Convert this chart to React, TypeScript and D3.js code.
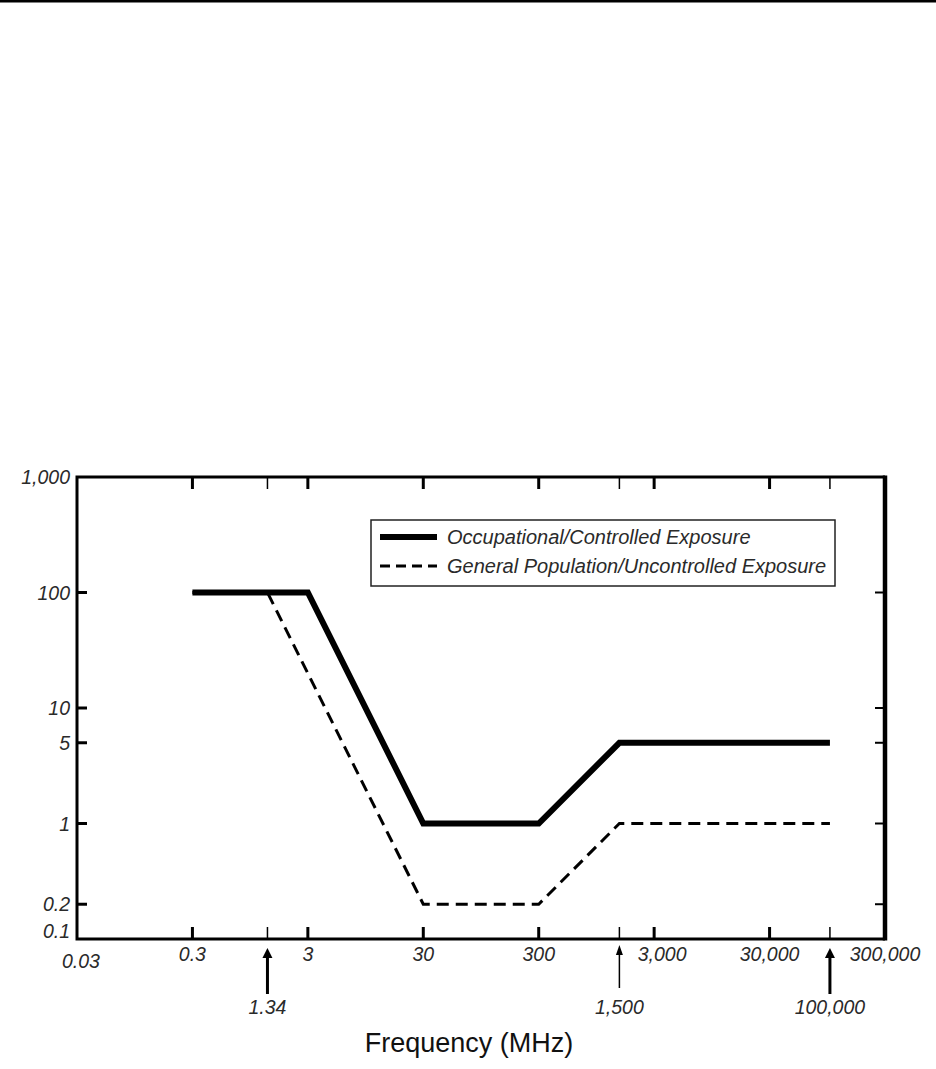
import React, { useEffect, useRef } from 'react';
import * as d3 from 'd3';

// frequency axis (MHz), log scale
const freqTicks = [0.03, 0.3, 3, 30, 300, 3000, 30000, 300000];
const freqTickLabels = ['0.03', '0.3', '3', '30', '300', '3,000', '30,000', '300,000'];

// marked transition frequencies with arrows
const markerFreqs = [1.34, 1500, 100000];
const markerLabels = ['1.34', '1,500', '100,000'];
const markerBold = [true, false, true];

// power density axis (mW/cm²), log scale
const densityTicks = [1000, 100, 10, 5, 1, 0.2, 0.1];
const densityTickLabels = ['1,000', '100', '10', '5', '1', '0.2', '0.1'];

// Occupational / Controlled exposure limit
const occFreq = [0.3, 3, 30, 300, 1500, 100000];
const occValues = [100, 100, 1, 1, 5, 5];

// General population / Uncontrolled exposure limit
const genFreq = [0.3, 1.34, 30, 300, 1500, 100000];
const genValues = [100, 100, 0.2, 0.2, 1, 1];

const seriesNames = ['Occupational/Controlled Exposure', 'General Population/Uncontrolled Exposure'];

const App: React.FC = () => {
    const svgRef = useRef<SVGSVGElement>(null);

    useEffect(() => {
        document.body.style.margin = '0';
        d3.select(svgRef.current).selectAll('*').remove();

        const width = 936;
        const height = 1069;
        const left = 77, right = 885, top = 477, bottom = 939;
        const font = 'Liberation Sans, Arial, sans-serif';
        const textColor = '#2a2a2a';

        const svg = d3.select(svgRef.current)
            .attr('width', width)
            .attr('height', height)
            .style('display', 'block')
            .style('background', '#fff');

        // rule at the very top of the page
        svg.append('rect')
            .attr('x', 0).attr('y', 0)
            .attr('width', width).attr('height', 2.5)
            .attr('fill', '#000');

        const x = d3.scaleLog().domain([0.03, 300000]).range([left, right]);
        const y = d3.scaleLog().domain([0.1, 1000]).range([bottom, top]);

        // frame
        svg.append('path')
            .attr('d', `M${right},${top}H${left}V${bottom}H${right}`)
            .attr('fill', 'none')
            .attr('stroke', '#000')
            .attr('stroke-width', 3);
        svg.append('line')
            .attr('x1', right).attr('x2', right)
            .attr('y1', top - 1.5).attr('y2', bottom + 1.5)
            .attr('stroke', '#000')
            .attr('stroke-width', 4.5);

        // y ticks (inner, both sides)
        const innerY = densityTicks.filter(d => d < 1000 && d > 0.1);
        svg.append('g').selectAll('line')
            .data(innerY)
            .join('line')
            .attr('x1', left).attr('x2', left + 10)
            .attr('y1', d => y(d)).attr('y2', d => y(d))
            .attr('stroke', '#000').attr('stroke-width', 3);
        svg.append('g').selectAll('line')
            .data(innerY)
            .join('line')
            .attr('x1', right - 10).attr('x2', right)
            .attr('y1', d => y(d)).attr('y2', d => y(d))
            .attr('stroke', '#000').attr('stroke-width', 2);

        // y labels (the lowest one sits above the corner)
        svg.append('g').selectAll('text')
            .data(densityTicks)
            .join('text')
            .attr('x', left - 7)
            .attr('y', (d) => y(d))
            .attr('dy', d => d === 0.1 ? '-0.05em' : '0.36em')
            .attr('text-anchor', 'end')
            .attr('font-family', font)
            .attr('font-style', 'italic')
            .attr('font-size', 19.5)
            .attr('fill', textColor)
            .text((d, i) => densityTickLabels[i]);

        // x ticks (inner, bottom and top)
        const innerX = freqTicks.filter(d => d > 0.03 && d < 300000);
        [bottom, top].forEach(base => {
            const dir = base === bottom ? -1 : 1;
            svg.append('g').selectAll('line')
                .data(innerX)
                .join('line')
                .attr('x1', d => x(d)).attr('x2', d => x(d))
                .attr('y1', base).attr('y2', base + dir * 12)
                .attr('stroke', '#000').attr('stroke-width', 3);
            svg.append('g').selectAll('line')
                .data(markerFreqs)
                .join('line')
                .attr('x1', d => x(d)).attr('x2', d => x(d))
                .attr('y1', base).attr('y2', base + dir * 12)
                .attr('stroke', '#000').attr('stroke-width', 1.5);
        });

        // x labels
        svg.append('g').selectAll('text')
            .data(freqTicks)
            .join('text')
            .attr('x', d => x(d))
            .attr('dx', d => d === 3000 ? 8 : d === 0.03 ? 4 : 0)
            .attr('y', d => d === 0.03 ? 968 : 961)
            .attr('text-anchor', 'middle')
            .attr('font-family', font)
            .attr('font-style', 'italic')
            .attr('font-size', 19.5)
            .attr('fill', textColor)
            .text((d, i) => freqTickLabels[i]);

        // arrows for the transition frequencies
        const arrows = svg.append('g');
        markerFreqs.forEach((f, i) => {
            const cx = x(f);
            const bold = markerBold[i];
            const tipY = bold ? 948 : 945;
            const head = bold ? 5 : 3.5;
            arrows.append('line')
                .attr('x1', cx).attr('x2', cx)
                .attr('y1', tipY + 8).attr('y2', bold ? 994 : 988)
                .attr('stroke', '#000')
                .attr('stroke-width', bold ? 3 : 1.5);
            arrows.append('path')
                .attr('d', `M${cx},${tipY}L${cx - head},${tipY + 10}L${cx + head},${tipY + 10}Z`)
                .attr('fill', '#000');
            arrows.append('text')
                .attr('x', cx)
                .attr('y', 1014)
                .attr('text-anchor', 'middle')
                .attr('font-family', font)
                .attr('font-style', 'italic')
                .attr('font-size', 19.5)
                .attr('fill', textColor)
                .text(markerLabels[i]);
        });

        // axis title
        svg.append('text')
            .attr('x', 469)
            .attr('y', 1052)
            .attr('text-anchor', 'middle')
            .attr('font-family', font)
            .attr('font-size', 27)
            .attr('fill', '#111')
            .text('Frequency (MHz)');

        // limit lines
        const line = d3.line<[number, number]>()
            .x(d => x(d[0]))
            .y(d => y(d[1]));

        svg.append('path')
            .datum(genFreq.map((f, i) => [f, genValues[i]] as [number, number]))
            .attr('fill', 'none')
            .attr('stroke', '#000')
            .attr('stroke-width', 3)
            .attr('stroke-dasharray', '12,7')
            .attr('d', line);

        svg.append('path')
            .datum(occFreq.map((f, i) => [f, occValues[i]] as [number, number]))
            .attr('fill', 'none')
            .attr('stroke', '#000')
            .attr('stroke-width', 6)
            .attr('stroke-linejoin', 'miter')
            .attr('d', line);

        // legend
        const legend = svg.append('g');
        legend.append('rect')
            .attr('x', 371).attr('y', 520)
            .attr('width', 464).attr('height', 66)
            .attr('fill', '#fff')
            .attr('stroke', '#222')
            .attr('stroke-width', 1.5);
        const rows = [
            { name: seriesNames[0], w: 6, dash: null, ly: 537, ty: 544 },
            { name: seriesNames[1], w: 3, dash: '10,6', ly: 566, ty: 573 },
        ];
        rows.forEach(r => {
            legend.append('line')
                .attr('x1', 380).attr('x2', 437)
                .attr('y1', r.ly).attr('y2', r.ly)
                .attr('stroke', '#000')
                .attr('stroke-width', r.w)
                .attr('stroke-dasharray', r.dash);
            legend.append('text')
                .attr('x', 447)
                .attr('y', r.ty)
                .attr('font-family', font)
                .attr('font-style', 'italic')
                .attr('font-size', 20)
                .attr('fill', textColor)
                .text(r.name);
        });
    }, []);

    return <svg ref={svgRef}></svg>;
};

export default App;
